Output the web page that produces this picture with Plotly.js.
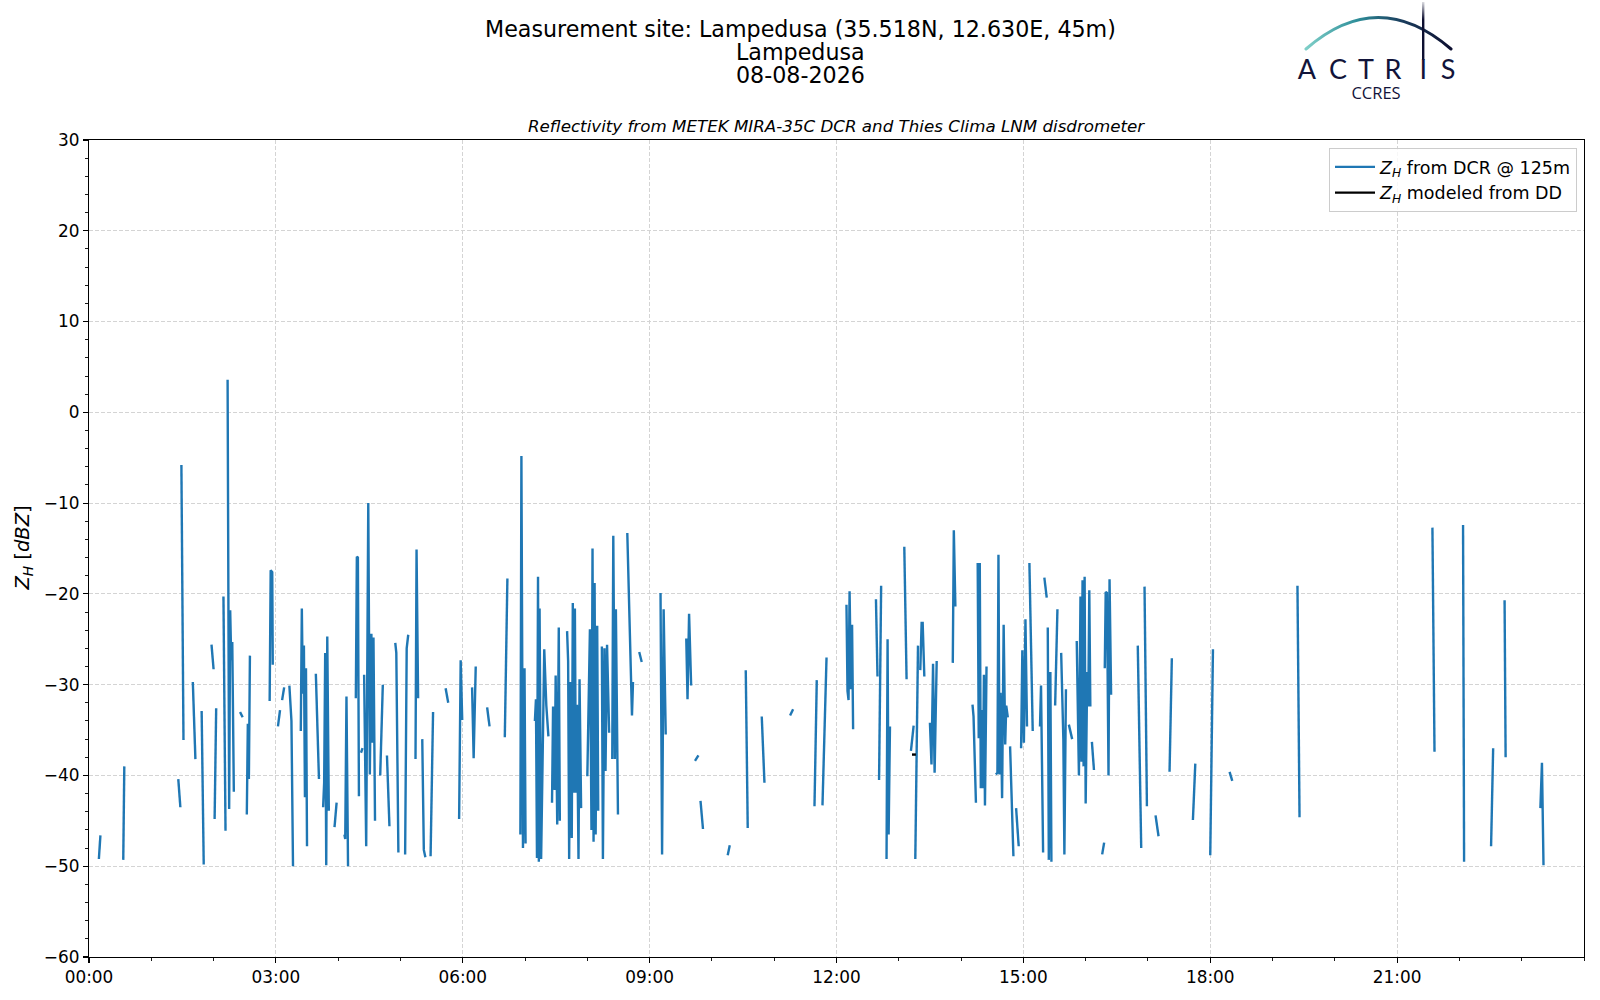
<!doctype html>
<html>
<head>
  <meta charset="utf-8">
  <title>Lampedusa reflectivity</title>
  <script src="https://cdn.plot.ly/plotly-3.0.1.min.js"></script>
  <style>
    body { margin: 0; background: #fff; }
    #chart { width: 1600px; height: 1000px; }
  </style>
</head>
<body>
  <div id="chart"></div>
  <script>
    // DCR reflectivity at 125 m: minutes since midnight, null = gap between segments
    var dcrMinutes = [
      9.5, 11, null,
      33, 34, null,
      86, 88, null,
      89, 91, null,
      100, 102.5, null,
      108.5, 110.5, null,
      118, 120, null,
      121, 122.5, null,
      129.5, 131.5, null,
      133.5, 135, 136, 137, 138, 139.5, null,
      145.5, 148, null,
      152, 153, 154, 155, null,
      174, 175, 176.5, 177, null,
      182, 184, null,
      186, 188, null,
      193, 195, 196.5, null,
      204, 205, 206, 207, 208, 209, 210, null,
      218.5, 221.5, null,
      225.5, 226.5, 227.5, 228.5, 229.5, 231, null,
      236.5, 238.5, null,
      246, 246.8, 248, 249.5, null,
      257, 258, 259, 260, null,
      262, 263.5, null,
      265, 267, 269, 270.5, 272, 273, 274, 275.5, null,
      280.5, 283, null,
      287, 289.4, null,
      295, 296, 298, null,
      304.5, 306, 307.5, null,
      314.5, 315.5, 317, null,
      321, 322.5, 324, null,
      329, 331.4, null,
      343.5, 346, null,
      356.5, 358, 359.5, null,
      369, 370.5, 372.5, null,
      383.5, 385.8, null,
      400.5, 403, null,
      415.5, 416.5, 418, 419.5, 420.5, null,
      429.5, 430.5, 431.5, 432.5, 433.3, 434, 435.5, 437, 438.5, 440.5, 442.5, null,
      446, 447, 448.5, 449.5, 451, 452.5, 453.5, null,
      460.5, 461.5, 462.5, 463.5, 465, 466, 467, 468, 469, 470, 471.5, 472.5, 474, null,
      480, 482.5, 484, 485, 486, 487, 488, 489.5, 490.5, null,
      494, 495, 496.5, 497.5, 499, 501, null,
      504, 505, 506.5, 507.5, 509.5, null,
      518.5, 523, 524, null,
      530, 532.4, null,
      550.5, 552, 553.5, 555.5, null,
      575.3, 576.5, 578, 580, null,
      583.7, 587, null,
      589, 591.4, null,
      615.2, 617.2, null,
      632.6, 634.5, null,
      648, 650.6, null,
      675.3, 678.2, null,
      698.8, 701, null,
      706.5, 710.4, null,
      729.6, 730.6, 731.6, 732.6, 734, 735, 736, null,
      758, 759.5, null,
      761, 763, null,
      768.2, 769.2, 770.2, 771.5, null,
      785.3, 787.5, null,
      791.7, 794.3, null,
      795.9, 798.5, null,
      800.7, 802, 803, 804.6, null,
      810, 811.5, 813, 814.5, 816.5, null,
      832, 833, 834.5, null,
      851, 852, 854.3, null,
      856, 857, 858, 859, 860, 861, 862, 863, 864.5, null,
      873.5, 875, 876, 877, 878, 879.5, 881, 882.5, 883.5, 885, null,
      887.2, 890.4, null,
      893, 895.5, null,
      897.8, 899, 900.5, 902, 903.5, null,
      905.8, 909, null,
      916, 917, 919, null,
      920.2, 922.5, null,
      923.5, 924.5, 926, 927, null,
      930.6, 932.8, null,
      936.4, 938.5, 939.5, 941, null,
      943.8, 947, null,
      951.4, 953.5, 955, 956, 957, 958, 959, 960, 961.5, 962.5, 963.5, 964.5, null,
      966, 968, null,
      975.9, 977.8, null,
      978.4, 979.3, 980.5, 982, 983, 984.5, null,
      1010.2, 1013.5, null,
      1016.7, 1019, null,
      1027.3, 1030.2, null,
      1040.8, 1043, null,
      1063.3, 1065.6, null,
      1080, 1082.6, null,
      1098.6, 1101.2, null,
      1164, 1166, null,
      1294, 1296, null,
      1323.5, 1324.5, null,
      1350.5, 1352.5, null,
      1363.5, 1364.5, null,
      1398, 1399.5, 1401
    ];
    var dcrZh = [
      -49.2, -46.6, null,
      -49.3, -39, null,
      -40.4, -43.5, null,
      -5.8, -36.1, null,
      -29.7, -38.2, null,
      -32.9, -49.8, null,
      -25.6, -28.3, null,
      -44.8, -32.6, null,
      -20.3, -46.1, null,
      3.6, -43.7, -21.8, -27.3, -25.3, -41.8, null,
      -33.0, -33.6, null,
      -44.3, -34.3, -40.4, -26.8, null,
      -31.8, -17.4, -17.6, -27.8, null,
      -34.6, -32.8, null,
      -31.7, -30.3, null,
      -30.1, -34, -50, null,
      -35.1, -21.6, -31, -25.7, -42.4, -28.2, -47.8, null,
      -28.8, -40.4, null,
      -43.5, -40.8, -26.5, -49.9, -24.7, -43.9, null,
      -45.7, -43, null,
      -46.5, -47, -31.3, -50, null,
      -31.5, -15.9, -16, -42.3, null,
      -37.5, -37.0, null,
      -28.9, -47.8, -10, -39.9, -24.4, -36.4, -24.8, -45, null,
      -40, -30, null,
      -37.8, -45.6, null,
      -25.4, -26.5, -48.5, null,
      -48.7, -26, -24.5, null,
      -38.2, -15.1, -31.5, null,
      -36, -48.2, -49, null,
      -48.9, -33, null,
      -30.4, -32, null,
      -44.8, -27.3, -33.9, null,
      -30.3, -38.1, -28, null,
      -32.5, -34.6, null,
      -35.8, -18.3, null,
      -46.5, -4.8, -48, -28.2, -47.5, null,
      -34, -31.6, -49.1, -18.1, -49.5, -21.6, -49.2, -37.1, -26.1, -32.3, -35.7, null,
      -43, -32.4, -41.6, -29, -45.4, -23.7, -45, null,
      -24.1, -27.4, -49.2, -29.7, -46.9, -21, -41.9, -21.6, -41.9, -32.2, -49.2, -29.4, -43.6, null,
      -40.1, -23.9, -46, -15, -47.3, -18.8, -46.5, -23.5, -43.9, null,
      -25.8, -49.2, -26, -39.5, -25.6, -35.3, null,
      -38.2, -13.6, -38.2, -21.7, -44.3, null,
      -13.3, -33.4, -29.7, null,
      -26.4, -27.5, null,
      -19.9, -48.7, -21.7, -35.5, null,
      -24.9, -31.6, -22.2, -30.1, null,
      -38.4, -37.8, null,
      -42.8, -45.9, null,
      -48.8, -47.7, null,
      -28.4, -45.8, null,
      -33.5, -40.8, null,
      -33.4, -32.7, null,
      -43.4, -29.5, null,
      -43.3, -27, null,
      -21.2, -30.7, -31.7, -19.7, -30.5, -23.4, -34.9, null,
      -20.6, -29.1, null,
      -40.5, -19.1, null,
      -49.2, -25, -46.5, -34.6, null,
      -14.8, -29.4, null,
      -37.3, -34.5, null,
      -49.2, -25.7, null,
      -28.4, -23.2, -23.2, -29.1, null,
      -34.2, -38.8, -27.7, -39.7, -27.4, null,
      -27.6, -13, -21.4, null,
      -32.2, -33.5, -43, null,
      -16.6, -35.9, -16.6, -41.4, -32.8, -41.4, -28.9, -43.3, -28, null,
      -39.9, -39.7, -15.7, -39.9, -30.9, -42.5, -23.4, -36.6, -32.3, -33.6, null,
      -36.8, -48.9, null,
      -43.6, -47.8, null,
      -37, -26.2, -36.4, -22.8, -34.6, null,
      -16.6, -35.1, null,
      -34.6, -30.1, -48.5, null,
      -18.2, -20.4, null,
      -23.7, -49.3, -28.6, -49.5, null,
      -32.3, -21.7, null,
      -26.5, -36, -48.7, -30.5, null,
      -34.4, -36, null,
      -25.2, -40, -20.3, -38.5, -18.5, -39, -18.1, -43.1, -28.6, -32.4, -19.6, -32.4, null,
      -36.3, -39.4, null,
      -48.7, -47.4, null,
      -28.2, -19.8, -19.9, -40, -18.4, -31.1, null,
      -25.7, -48, null,
      -19.2, -43.4, null,
      -44.4, -46.7, null,
      -39.6, -27.1, null,
      -44.9, -38.7, null,
      -48.8, -26.1, null,
      -39.6, -40.6, null,
      -19.1, -44.6, null,
      -12.7, -37.4, null,
      -12.4, -49.5, null,
      -47.8, -37, null,
      -20.7, -38, null,
      -43.6, -38.6, -49.9
    ];

    // reflectivity modeled from the disdrometer drop size distribution
    var ddMinutes = [792.7, 796.5];
    var ddZh = [-37.7, -37.7];

    var day = '2026-08-08';
    var hourTicks = ['00:00', '03:00', '06:00', '09:00', '12:00', '15:00', '18:00', '21:00'];

    function toStamp(m) {
      if (m === null) return null;
      var ms = Date.UTC(2026, 7, 8) + Math.round(m * 60000);
      return new Date(ms).toISOString().replace('T', ' ').replace('Z', '');
    }

    var font = 'DejaVu Sans, Verdana, sans-serif';
    var W = 1600, H = 1000;
    var mg = {l: 89, r: 16, t: 140, b: 43};
    // pixel -> paper helpers for the page decorations
    function px(x) { return (x - mg.l) / (W - mg.l - mg.r); }
    function py(y) { return (H - mg.b - y) / (H - mg.t - mg.b); }

    var traces = [
      {
        x: dcrMinutes.map(toStamp),
        y: dcrZh,
        type: 'scatter',
        mode: 'lines',
        name: '<i>Z<sub>H</sub></i> from DCR @ 125m',
        line: {color: '#1f77b4', width: 2.4},
        connectgaps: false
      },
      {
        x: ddMinutes.map(toStamp),
        y: ddZh,
        type: 'scatter',
        mode: 'lines',
        name: '<i>Z<sub>H</sub></i> modeled from DD',
        line: {color: '#000000', width: 2.4}
      }
    ];

    // ACTRIS / CCRES logo as inline svg
    var logoSvg =
      '<svg xmlns="http://www.w3.org/2000/svg" width="180" height="105" viewBox="0 0 180 105">' +
      '<defs>' +
      '<linearGradient id="g" x1="0" y1="0" x2="1" y2="0">' +
      '<stop offset="0" stop-color="#7fcfc8"/><stop offset="0.35" stop-color="#2f8f9a"/>' +
      '<stop offset="0.65" stop-color="#1b3f5f"/><stop offset="1" stop-color="#0d0f30"/></linearGradient>' +
      '<linearGradient id="v" x1="0" y1="0" x2="0" y2="1">' +
      '<stop offset="0" stop-color="#0d0f30" stop-opacity="0.15"/><stop offset="0.3" stop-color="#0d0f30"/></linearGradient>' +
      '</defs>' +
      '<path d="M16,49 Q88,-14 161,49" fill="none" stroke="url(#g)" stroke-width="3" stroke-linecap="round"/>' +
      '<rect x="132" y="2" width="2.4" height="58" fill="url(#v)"/>' +
      '<g font-family="Lato, Open Sans, sans-serif" font-size="27" fill="#12143a" text-anchor="middle">' +
      '<text x="17" y="79">A</text><text x="48" y="79">C</text><text x="76" y="79">T</text>' +
      '<text x="103" y="79">R</text><text x="133.2" y="79">I</text><text x="158" y="79">S</text></g>' +
      '<text x="86" y="99" font-family="Open Sans, sans-serif" font-size="16.5" fill="#12143a" text-anchor="middle">CCRES</text>' +
      '</svg>';

    var layout = {
      width: W,
      height: H,
      margin: mg,
      paper_bgcolor: '#ffffff',
      plot_bgcolor: '#ffffff',
      font: {family: font, size: 16.7, color: '#000000'},
      showlegend: true,
      legend: {
        x: px(1577), y: py(148), xanchor: 'right', yanchor: 'top',
        bgcolor: 'rgba(255,255,255,0.8)', bordercolor: '#cccccc', borderwidth: 1,
        font: {family: font, size: 17.5, color: '#000000'},
        itemwidth: 40,
        tracegroupgap: 0
      },
      xaxis: {
        type: 'date',
        range: [day + ' 00:00', '2026-08-09 00:00'],
        tickvals: hourTicks.map(function (t) { return day + ' ' + t; }),
        ticktext: hourTicks,
        ticks: 'outside', ticklen: 5, tickwidth: 1.1, tickcolor: '#000',
        minor: {dtick: 3600000, ticks: 'outside', ticklen: 3, tickwidth: 0.9, tickcolor: '#000', showgrid: false},
        showline: true, linecolor: '#000', linewidth: 1.1, mirror: true,
        showgrid: true, gridcolor: '#d4d4d4', gridwidth: 1, griddash: '4px,2px',
        zeroline: false,
        tickfont: {family: font, size: 16.9, color: '#000'}
      },
      yaxis: {
        range: [-60, 30],
        dtick: 10,
        ticks: 'outside', ticklen: 5, tickwidth: 1.1, tickcolor: '#000',
        minor: {dtick: 2, ticks: 'outside', ticklen: 3, tickwidth: 0.9, tickcolor: '#000', showgrid: false},
        showline: true, linecolor: '#000', linewidth: 1.1, mirror: true,
        showgrid: true, gridcolor: '#d4d4d4', gridwidth: 1, griddash: '4px,2px',
        zeroline: false,
        tickfont: {family: font, size: 16.9, color: '#000'}
      },
      annotations: [
        {text: 'Measurement site: Lampedusa (35.518N, 12.630E, 45m)', xref: 'paper', yref: 'paper',
         x: px(800), y: py(29), xanchor: 'center', yanchor: 'middle', showarrow: false,
         font: {family: font, size: 22.2, color: '#000'}},
        {text: 'Lampedusa', xref: 'paper', yref: 'paper',
         x: px(800), y: py(52), xanchor: 'center', yanchor: 'middle', showarrow: false,
         font: {family: font, size: 22.2, color: '#000'}},
        {text: '08-08-2026', xref: 'paper', yref: 'paper',
         x: px(800), y: py(75), xanchor: 'center', yanchor: 'middle', showarrow: false,
         font: {family: font, size: 22.2, color: '#000'}},
        {text: '<i>Reflectivity from METEK MIRA-35C DCR and Thies Clima LNM disdrometer</i>',
         xref: 'paper', yref: 'paper', x: 0.5, y: py(126), xanchor: 'center', yanchor: 'middle',
         showarrow: false, font: {family: font, size: 16.7, color: '#000'}},
        {text: '<i>Z<sub>H</sub></i> [<i>dBZ</i>]', xref: 'paper', yref: 'paper',
         x: px(23), y: 0.5, xanchor: 'center', yanchor: 'middle', textangle: -90,
         showarrow: false, font: {family: font, size: 19.5, color: '#000'}}
      ],
      images: [
        {source: 'data:image/svg+xml;charset=utf-8,' + encodeURIComponent(logoSvg),
         xref: 'paper', yref: 'paper', x: px(1290), y: py(0),
         sizex: px(1470) - px(1290), sizey: py(0) - py(105),
         xanchor: 'left', yanchor: 'top', sizing: 'stretch', layer: 'above'}
      ]
    };

    Plotly.newPlot('chart', traces, layout, {displayModeBar: false, staticPlot: true});
  </script>
</body>
</html>
